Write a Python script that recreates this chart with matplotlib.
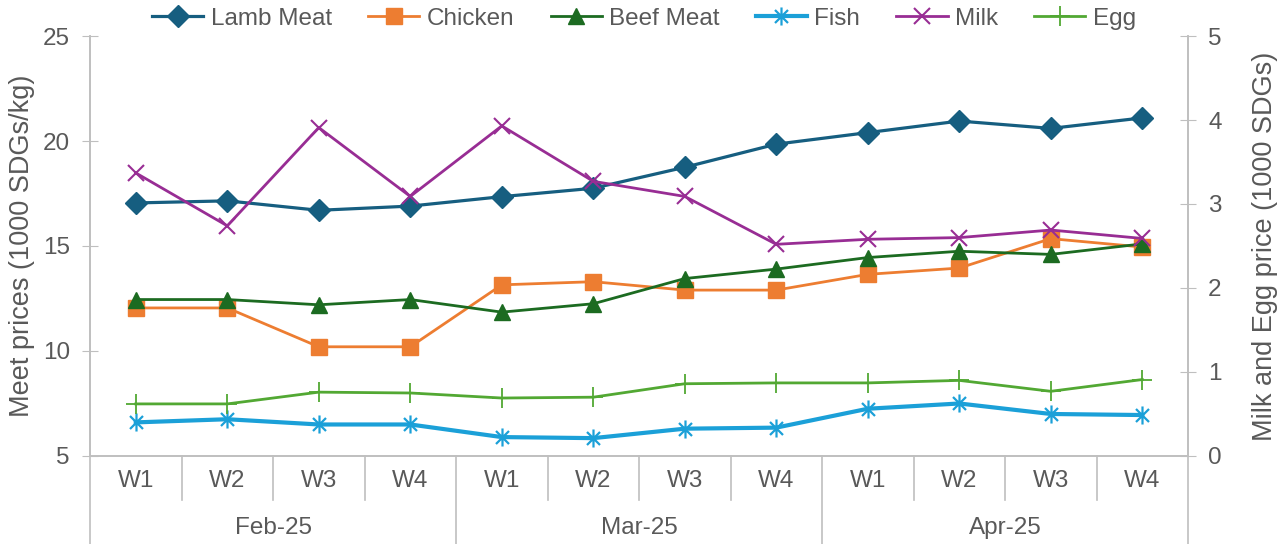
import matplotlib
matplotlib.use("Agg")
import matplotlib.pyplot as plt
from matplotlib.path import Path

plt.rcParams['font.family'] = ['Liberation Sans', 'DejaVu Sans']

# data
weeks = ['W1', 'W2', 'W3', 'W4'] * 3
months = ['Feb-25', 'Mar-25', 'Apr-25']

lamb = [17.05, 17.15, 16.7, 16.9, 17.35, 17.75, 18.75, 19.85, 20.4, 20.95, 20.6, 21.1]
chicken = [12.05, 12.05, 10.2, 10.2, 13.15, 13.3, 12.9, 12.9, 13.65, 13.95, 15.35, 14.95]
beef = [12.45, 12.45, 12.2, 12.45, 11.85, 12.25, 13.45, 13.9, 14.45, 14.75, 14.6, 15.1]
fish = [6.6, 6.75, 6.5, 6.5, 5.9, 5.85, 6.3, 6.35, 7.25, 7.5, 7.0, 6.95]
milk = [3.37, 2.74, 3.91, 3.09, 3.93, 3.27, 3.09, 2.52, 2.58, 2.60, 2.69, 2.59]
egg = [0.62, 0.62, 0.76, 0.75, 0.69, 0.70, 0.86, 0.87, 0.87, 0.90, 0.77, 0.91]

grey = '#BFBFBF'
txt = '#595959'
fs = 17.5
x = list(range(len(weeks)))

# asterisk marker like Excel's (X with a vertical bar)
star = Path([(0, -1), (0, 1), (-0.72, -0.72), (0.72, 0.72), (-0.72, 0.72), (0.72, -0.72)],
            [Path.MOVETO, Path.LINETO] * 3)

fig = plt.figure(figsize=(12.88, 5.44), dpi=100)
ax = fig.add_axes([0.0699, 0.1618, 0.8525, 0.772])
ax2 = ax.twinx()

h = []
h += ax.plot(x, lamb, color='#165E80', lw=2.3, marker='D', ms=11, label='Lamb Meat')
h += ax.plot(x, chicken, color='#ED7D31', lw=2.0, marker='s', ms=11.5, label='Chicken')
h += ax.plot(x, beef, color='#1C6B21', lw=2.0, marker='^', ms=12, label='Beef Meat')
h += ax.plot(x, fish, color='#1BA0D8', lw=3.0, marker=star, ms=13, mew=1.6,
             mfc='none', label='Fish')
h += ax2.plot(x, milk, color='#982D94', lw=2.0, marker='x', ms=12, mew=1.5, label='Milk')
h += ax2.plot(x, egg, color='#52A833', lw=2.0, marker='+', ms=14, mew=1.3, label='Egg')

ax.set_xlim(-0.5, len(weeks) - 0.5)
ax.set_ylim(5, 25)
ax.set_yticks([5, 10, 15, 20, 25])
ax2.set_ylim(0, 5)
ax2.set_yticks([0, 1, 2, 3, 4, 5])

ax.set_xticks(x)
ax.set_xticklabels(weeks)
ax.tick_params(axis='x', length=0, pad=10, labelsize=fs, labelcolor=txt)
ax.tick_params(axis='y', direction='inout', length=11, color=grey, labelsize=fs,
               labelcolor=txt, pad=9)
ax2.tick_params(axis='y', direction='inout', length=11, color=grey, labelsize=fs,
                labelcolor=txt, pad=9)

for a in (ax, ax2):
    a.spines['top'].set_visible(False)
    for s in ('left', 'right', 'bottom'):
        a.spines[s].set_color(grey)
        a.spines[s].set_linewidth(1.2)

ax.set_ylabel('Meet prices (1000 SDGs/kg)', fontsize=19.5, color=txt)
ax2.set_ylabel('Milk and Egg price (1000 SDGs)', fontsize=19.5, color=txt)
ax.yaxis.set_label_coords(-0.050, 0.5)
ax2.yaxis.set_label_coords(1.058, 0.5)

# multi-level category axis separators
tr = ax.get_xaxis_transform()
for i in range(len(weeks) + 1):
    xs = i - 0.5
    low = -0.21 if i % 4 == 0 else -0.105
    ax.plot([xs, xs], [0, low], color=grey, lw=1.2, transform=tr, clip_on=False)
for j, m in enumerate(months):
    ax.text(j * 4 + 1.5, -0.171, m, transform=tr, ha='center', va='center',
            fontsize=fs, color=txt)

fig.legend(handles=h, loc='center', bbox_to_anchor=(0.5, 0.966), ncol=6, frameon=False,
           fontsize=fs, labelcolor=txt, handlelength=2.1, handletextpad=0.3,
           columnspacing=1.5)

fig.savefig('out.png', dpi=100)
